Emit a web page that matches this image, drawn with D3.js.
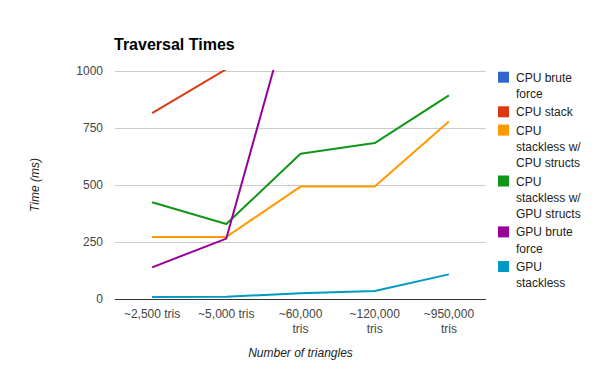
<!DOCTYPE html>
<html>
  <head>
    <title>Traversal Times</title>
    <script src="https://cdn.jsdelivr.net/npm/d3@7"></script>
    <style>
      body { margin: 0; background: #fff; }
      text { font-family: "Liberation Sans", Arial, sans-serif; }
    </style>
  </head>
  <body>
    <svg width="600" height="371" id="mainsvg"></svg>
    <script>

    // categories on the x axis (each one is split over lines)
    const categories = [
      ['~2,500 tris'],
      ['~5,000 tris'],
      ['~60,000', 'tris'],
      ['~120,000', 'tris'],
      ['~950,000', 'tris']
    ];

    // series (values above 1000 are off the chart)
    const seriesNames = [
      ['CPU brute', 'force'],
      ['CPU stack'],
      ['CPU', 'stackless w/', 'CPU structs'],
      ['CPU', 'stackless w/', 'GPU structs'],
      ['GPU brute', 'force'],
      ['GPU', 'stackless']
    ];
    const cpuBrute      = [1700, 3400, 40000, 80000, 600000];
    const cpuStack      = [815, 1008, 9000, 18000, 140000];
    const cpuStacklessC = [272, 272, 493, 493, 779];
    const cpuStacklessG = [424, 329, 637, 684, 893];
    const gpuBrute      = [139, 265, 1430, 2900, 23000];
    const gpuStackless  = [9, 10, 25, 35, 108];
    const seriesValues = [cpuBrute, cpuStack, cpuStacklessC, cpuStacklessG, gpuBrute, gpuStackless];
    const colors = ['#3366cc', '#dc3912', '#ff9900', '#109618', '#990099', '#0099c6'];

    const yTicks = [0, 250, 500, 750, 1000];

    const svg = d3.select('svg');
    const plotL = 115, plotR = 486, plotT = 71, plotB = 299;

    const x = d3.scalePoint()
      .domain(d3.range(categories.length))
      .range([plotL, plotR])
      .padding(0.5);
    const y = d3.scaleLinear().domain([0, 1000]).range([plotB, plotT]);

    // gridlines
    svg.append('g')
      .selectAll('line')
      .data(yTicks.filter(d => d > 0))
      .enter().append('line')
      .attr('x1', plotL).attr('x2', plotR)
      .attr('y1', d => y(d) + 0.5).attr('y2', d => y(d) + 0.5)
      .attr('stroke', '#cccccc').attr('stroke-width', 1);

    // y tick labels
    svg.append('g')
      .selectAll('text')
      .data(yTicks)
      .enter().append('text')
      .attr('x', 103)
      .attr('y', d => y(d) + 4)
      .attr('text-anchor', 'end')
      .attr('font-size', 12)
      .attr('fill', '#444')
      .text(d => d);

    // x tick labels
    const xl = svg.append('g')
      .selectAll('text')
      .data(categories)
      .enter().append('text')
      .attr('text-anchor', 'middle')
      .attr('font-size', 12)
      .attr('fill', '#444');
    xl.selectAll('tspan')
      .data((d, i) => d.map(s => ({ s, i })))
      .enter().append('tspan')
      .attr('x', d => x(d.i))
      .attr('y', (d, j) => 318 + j * 15)
      .text(d => d.s);

    // lines, clipped to the plot area
    svg.append('clipPath').attr('id', 'plotclip')
      .append('rect')
      .attr('x', plotL).attr('y', plotT - 1)
      .attr('width', plotR - plotL).attr('height', plotB - plotT + 2);

    const line = d3.line()
      .x((d, i) => x(i))
      .y(d => y(d));

    svg.append('g')
      .attr('clip-path', 'url(#plotclip)')
      .selectAll('path')
      .data(seriesValues)
      .enter().append('path')
      .attr('d', line)
      .attr('fill', 'none')
      .attr('stroke', (d, i) => colors[i])
      .attr('stroke-width', 2)
      .attr('stroke-linejoin', 'round');

    // baseline
    svg.append('line')
      .attr('x1', plotL).attr('x2', plotR)
      .attr('y1', y(0) + 0.5).attr('y2', y(0) + 0.5)
      .attr('stroke', '#333').attr('stroke-width', 1);

    // title and axis titles
    svg.append('text')
      .attr('x', 114).attr('y', 50)
      .attr('font-size', 16).attr('font-weight', 'bold')
      .attr('fill', '#000')
      .text('Traversal Times');

    svg.append('text')
      .attr('transform', 'translate(39,' + ((plotT + plotB) / 2) + ') rotate(-90)')
      .attr('text-anchor', 'middle')
      .attr('font-size', 12).attr('font-style', 'italic')
      .attr('fill', '#222')
      .text('Time (ms)');

    svg.append('text')
      .attr('x', (plotL + plotR) / 2).attr('y', 357)
      .attr('text-anchor', 'middle')
      .attr('font-size', 12).attr('font-style', 'italic')
      .attr('fill', '#222')
      .text('Number of triangles');

    // legend
    const lineH = 16.3, gap = 2;
    let ly = 71.7;
    const legendPos = seriesNames.map(n => { const p = ly; ly += n.length * lineH + gap; return p; });

    const lg = svg.append('g')
      .selectAll('g')
      .data(seriesNames)
      .enter().append('g')
      .attr('transform', (d, i) => 'translate(498,' + legendPos[i] + ')');
    lg.append('rect')
      .attr('width', 11).attr('height', 11)
      .attr('fill', (d, i) => colors[i]);
    lg.append('text')
      .attr('font-size', 12)
      .attr('fill', '#222')
      .selectAll('tspan')
      .data(d => d)
      .enter().append('tspan')
      .attr('x', 18)
      .attr('y', (d, j) => 10 + j * lineH)
      .text(d => d);

  </script>
  </body>
</html>
